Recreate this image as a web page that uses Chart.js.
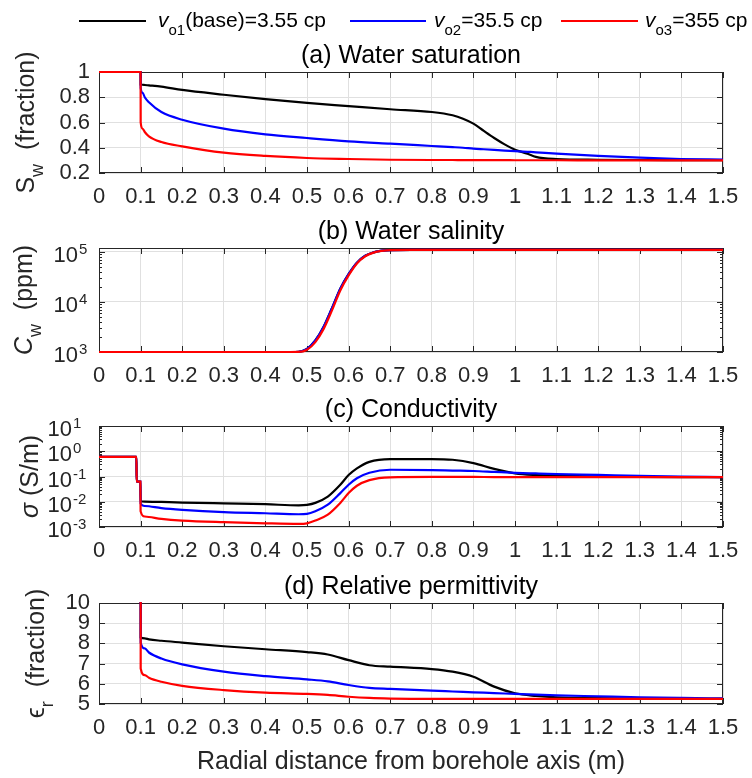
<!DOCTYPE html>
<html>
<head>
<meta charset="utf-8">
<script src="https://cdn.jsdelivr.net/npm/chart.js@4.4.1/dist/chart.umd.min.js"></script>
<style>
  body { margin: 0; background: #fff; }
  #wrap { position: relative; width: 752px; height: 778px; overflow: hidden; background: #fff; }
  canvas { position: absolute; left: 0; }
</style>
</head>
<body>
<div id="wrap">
  <canvas id="cSat" width="752" height="213" style="top:0px"></canvas>
  <canvas id="cSal" width="752" height="216" style="top:176px"></canvas>
  <canvas id="cCond" width="752" height="213" style="top:354px"></canvas>
  <canvas id="cPerm" width="752" height="247" style="top:531px"></canvas>
</div>
<script>
const FONT = "'Liberation Sans', Arial, Helvetica, sans-serif";
const AXIS = '#262626';
const GRID = '#e0e0e0';

// series: oil viscosity cases
const seriesNames = ['vo1(base)=3.55 cp', 'vo2=35.5 cp', 'vo3=355 cp'];
const seriesColors = ['#000000', '#0000ff', '#ff0000'];

// (a) water saturation (fraction)
const xSat = [0, 0.1, 0.1002, 0.105, 0.11, 0.12, 0.15, 0.2, 0.3, 0.4, 0.5, 0.6, 0.7, 0.8, 0.85, 0.875, 0.9, 0.925, 0.95, 0.975, 1.0, 1.03, 1.05, 1.1, 1.2, 1.3, 1.4, 1.5];
const satBase = [1, 1, 0.90, 0.899, 0.897, 0.894, 0.884, 0.858, 0.82, 0.785, 0.755, 0.73, 0.705, 0.683, 0.657, 0.63, 0.591, 0.533, 0.477, 0.427, 0.385, 0.353, 0.328, 0.311, 0.305, 0.303, 0.302, 0.301];
const satMid = [1, 1, 0.875, 0.835, 0.80, 0.76, 0.683, 0.622, 0.551, 0.506, 0.477, 0.451, 0.432, 0.414, 0.405, 0.4, 0.393, 0.388, 0.383, 0.378, 0.374, 0.368, 0.364, 0.353, 0.335, 0.321, 0.311, 0.306];
const satHigh = [1, 1, 0.60, 0.55, 0.525, 0.49, 0.445, 0.411, 0.361, 0.335, 0.319, 0.311, 0.305, 0.303, 0.303, 0.302, 0.302, 0.302, 0.302, 0.302, 0.301, 0.301, 0.301, 0.301, 0.3, 0.3, 0.3, 0.3];

// (b) water salinity (ppm)
const xSal = [0, 0.4, 0.46, 0.48, 0.5, 0.52, 0.54, 0.56, 0.58, 0.6, 0.62, 0.64, 0.66, 0.68, 0.7, 0.75, 1.5];
const salBase = [1000, 1000, 1000, 1010, 1150, 1700, 3200, 7500, 18500, 36000, 61000, 84000, 98000, 106000, 109000, 110000, 110000];
const salMid = [1000, 1000, 1000, 1010, 1150, 1700, 3200, 7500, 18500, 36000, 61000, 84000, 98000, 106000, 109000, 110000, 110000];
const salHigh = [1000, 1000, 1000, 1005, 1110, 1580, 2900, 6800, 17000, 34000, 59000, 82000, 97000, 105000, 109000, 110000, 110000];

// (c) conductivity (S/m)
const xCond = [0, 0.09, 0.0905, 0.0995, 0.1, 0.11, 0.15, 0.2, 0.3, 0.4, 0.48, 0.5, 0.52, 0.55, 0.58, 0.6, 0.62, 0.65, 0.7, 0.8, 0.85, 0.9, 0.95, 1.0, 1.05, 1.1, 1.2, 1.3, 1.4, 1.5];
const condBase = [0.6, 0.6, 0.063, 0.063, 0.0105, 0.0102, 0.0098, 0.0093, 0.0086, 0.008, 0.0072, 0.0075, 0.009, 0.016, 0.047, 0.114, 0.21, 0.38, 0.49, 0.49, 0.46, 0.34, 0.2, 0.134, 0.115, 0.108, 0.1, 0.097, 0.095, 0.094];
const condMid = [0.6, 0.6, 0.063, 0.063, 0.0085, 0.0068, 0.0056, 0.0048, 0.0039, 0.0035, 0.0032, 0.0033, 0.0042, 0.0077, 0.022, 0.047, 0.085, 0.14, 0.185, 0.18, 0.172, 0.165, 0.152, 0.14, 0.132, 0.125, 0.115, 0.105, 0.1, 0.095];
const condHigh = [0.6, 0.6, 0.063, 0.063, 0.0042, 0.0026, 0.0021, 0.0018, 0.00155, 0.0014, 0.00133, 0.0014, 0.0018, 0.0031, 0.009, 0.022, 0.043, 0.072, 0.093, 0.096, 0.096, 0.096, 0.095, 0.095, 0.095, 0.095, 0.095, 0.095, 0.095, 0.095];

// (d) relative permittivity
const xPerm = [0, 0.1, 0.1002, 0.11, 0.12, 0.15, 0.2, 0.3, 0.4, 0.5, 0.55, 0.6, 0.65, 0.7, 0.8, 0.85, 0.9, 0.95, 1.0, 1.05, 1.1, 1.2, 1.3, 1.4, 1.5];
const permBase = [80, 80, 8.29, 8.25, 8.2, 8.13, 8.04, 7.86, 7.71, 7.57, 7.45, 7.17, 6.92, 6.85, 6.73, 6.6, 6.35, 5.86, 5.53, 5.4, 5.33, 5.29, 5.27, 5.26, 5.25];
const permMid = [80, 80, 8.05, 7.75, 7.55, 7.25, 6.96, 6.6, 6.38, 6.22, 6.12, 5.94, 5.8, 5.75, 5.66, 5.62, 5.58, 5.54, 5.5, 5.46, 5.43, 5.38, 5.33, 5.3, 5.28];
const permHigh = [80, 80, 6.76, 6.43, 6.3, 6.1, 5.9, 5.69, 5.56, 5.5, 5.45, 5.36, 5.3, 5.27, 5.25, 5.25, 5.25, 5.25, 5.25, 5.25, 5.25, 5.25, 5.25, 5.25, 5.25];

function isDecade(v) {
    const l = Math.log10(v);
    return Math.abs(l - Math.round(l)) < 1e-6;
}

// draw a run of text pieces with sub/superscripts
function drawRich(ctx, parts, x, y, size, align) {
    const items = parts.map(p => {
        const s = (p.sub || p.sup) ? Math.round(size * 0.72) : size;
        const font = (p.italic ? 'italic ' : '') + s + 'px ' + FONT;
        ctx.font = font;
        return { t: p.t, font, w: ctx.measureText(p.t).width, dy: p.sub ? size * 0.36 : p.sup ? -size * 0.38 : 0 };
    });
    const total = items.reduce((a, b) => a + b.w, 0);
    let cx = align === 'center' ? x - total / 2 : align === 'right' ? x - total : x;
    ctx.textAlign = 'left';
    ctx.textBaseline = 'alphabetic';
    items.forEach(it => {
        ctx.font = it.font;
        ctx.fillText(it.t, cx, y + it.dy);
        cx += it.w;
    });
}

const legendParts = [
    [{ t: 'v', italic: true }, { t: 'o1', sub: true }, { t: '(base)=3.55 cp' }],
    [{ t: 'v', italic: true }, { t: 'o2', sub: true }, { t: '=35.5 cp' }],
    [{ t: 'v', italic: true }, { t: 'o3', sub: true }, { t: '=355 cp' }]
];
const legendLines = [[79, 146, 158], [350, 426, 434], [561, 638, 645]];

const axesPlugin = {
    id: 'matlabAxes',
    beforeDatasetsDraw(chart, args, opts) {
        const { ctx, chartArea: a, scales } = chart;
        ctx.save();
        ctx.strokeStyle = AXIS;
        ctx.lineWidth = 1;
        ctx.beginPath();
        scales.x.ticks.forEach(t => {
            const px = Math.round(scales.x.getPixelForValue(t.value)) + 0.5;
            ctx.moveTo(px, a.bottom); ctx.lineTo(px, a.bottom - 6);
            ctx.moveTo(px, a.top); ctx.lineTo(px, a.top + 6);
        });
        const log = scales.y.type === 'logarithmic';
        scales.y.ticks.forEach(t => {
            const len = (log && !isDecade(t.value)) ? 3 : 6;
            const py = Math.round(scales.y.getPixelForValue(t.value)) + 0.5;
            ctx.moveTo(a.left, py); ctx.lineTo(a.left + len, py);
            ctx.moveTo(a.right, py); ctx.lineTo(a.right - len, py);
        });
        ctx.stroke();
        ctx.strokeRect(a.left + 0.5, a.top + 0.5, a.right - a.left - 1, a.bottom - a.top - 1);
        ctx.restore();
    },
    afterDraw(chart, args, opts) {
        const { ctx, chartArea: a, scales } = chart;
        ctx.save();
        ctx.fillStyle = '#000';
        ctx.font = '25px ' + FONT;
        ctx.textAlign = 'center';
        ctx.textBaseline = 'alphabetic';
        ctx.fillText(opts.title, (a.left + a.right) / 2, a.top - 9);

        ctx.fillStyle = AXIS;
        ctx.save();
        ctx.translate(opts.ylabX, (a.top + a.bottom) / 2);
        ctx.rotate(-Math.PI / 2);
        drawRich(ctx, opts.ylab, 0, 0, 25, 'center');
        ctx.restore();

        if (scales.y.type === 'logarithmic') {
            scales.y.ticks.filter(t => isDecade(t.value)).forEach(t => {
                const py = scales.y.getPixelForValue(t.value);
                const e = Math.round(Math.log10(t.value));
                const xr = a.left - opts.logGap;
                ctx.font = '22px ' + FONT;
                ctx.textAlign = 'right';
                ctx.fillText('10', xr, py + 10);
                ctx.font = '15px ' + FONT;
                ctx.textAlign = 'left';
                ctx.fillText(e < 0 ? '-' + (-e) : String(e), xr + 1, py + 2);
            });
        }

        if (opts.legend) {
            legendLines.forEach((l, i) => {
                ctx.strokeStyle = seriesColors[i];
                ctx.lineWidth = 2;
                ctx.beginPath();
                ctx.moveTo(l[0], 21); ctx.lineTo(l[1], 21);
                ctx.stroke();
                ctx.fillStyle = '#000';
                drawRich(ctx, legendParts[i], l[2], 27, 21, 'left');
            });
        }
        if (opts.xlabel) {
            ctx.fillStyle = AXIS;
            ctx.font = '25px ' + FONT;
            ctx.textAlign = 'center';
            ctx.fillText(opts.xlabel, (a.left + a.right) / 2, a.bottom + 65);
        }
        ctx.restore();
    }
};

function logTicks(s) {
    const t = [];
    const e0 = Math.floor(Math.log10(s.min));
    const e1 = Math.ceil(Math.log10(s.max));
    for (let e = e0; e <= e1; e++) {
        for (let k = 1; k <= 9; k++) {
            const v = k * Math.pow(10, e);
            if (v >= s.min * 0.999 && v <= s.max * 1.001) t.push({ value: v });
        }
    }
    s.ticks = t;
}

function makePanel(p) {
    const isLog = p.type === 'logarithmic';
    return new Chart(document.getElementById(p.id), {
        type: 'line',
        data: {
            datasets: p.series.map((ys, i) => ({
                label: seriesNames[i],
                data: p.x.map((x, j) => ({ x: x, y: ys[j] })),
                borderColor: seriesColors[i],
                borderWidth: 2.2,
                pointRadius: 0,
                fill: false,
                cubicInterpolationMode: 'monotone',
                clip: { left: 2, top: 1, right: 2, bottom: 2 },
                order: 3 - i
            }))
        },
        options: {
            responsive: false,
            animation: false,
            devicePixelRatio: 1,
            layout: { padding: { top: 72, right: 29, left: 0, bottom: 0 }, autoPadding: false },
            plugins: { legend: { display: false }, tooltip: { enabled: false }, matlabAxes: p },
            scales: {
                x: {
                    type: 'linear', min: 0, max: 1.5,
                    afterFit: s => { s.height = p.xAxisH; },
                    ticks: {
                        stepSize: 0.1, color: AXIS, font: { size: 22, family: FONT }, padding: 11,
                        maxRotation: 0, autoSkip: false,
                        callback: v => String(Math.round(v * 10) / 10)
                    },
                    grid: { color: GRID, drawTicks: false },
                    border: { display: false }
                },
                y: {
                    type: p.type, min: p.min, max: p.max,
                    afterFit: s => { s.width = 99; },
                    afterBuildTicks: isLog ? logTicks : undefined,
                    ticks: {
                        stepSize: p.step, color: AXIS, font: { size: 22, family: FONT }, padding: 9, autoSkip: false,
                        callback: isLog ? () => '' : v => String(Math.round(v * 10) / 10)
                    },
                    grid: {
                        color: isLog ? (c => (c.tick && isDecade(c.tick.value)) ? GRID : 'rgba(0,0,0,0)') : GRID,
                        drawTicks: false
                    },
                    border: { display: false }
                }
            }
        },
        plugins: [axesPlugin]
    });
}

makePanel({
    id: 'cSat', x: xSat, series: [satBase, satMid, satHigh], type: 'linear', min: 0.2, max: 1, step: 0.2,
    title: '(a) Water saturation', ylabX: 34, xAxisH: 40, legend: true,
    ylab: [{ t: 'S' }, { t: 'w', sub: true }, { t: '  (fraction)' }]
});
makePanel({
    id: 'cSal', x: xSal, series: [salBase, salMid, salHigh], type: 'logarithmic', min: 1000, max: 120000,
    title: '(b) Water salinity', ylabX: 32, xAxisH: 40, logGap: 21,
    ylab: [{ t: 'C', italic: true }, { t: 'w', sub: true }, { t: '  (ppm)' }]
});
makePanel({
    id: 'cCond', x: xCond, series: [condBase, condMid, condHigh], type: 'logarithmic', min: 0.001, max: 10,
    title: '(c) Conductivity', ylabX: 38, xAxisH: 40, logGap: 27,
    ylab: [{ t: 'σ', italic: true }, { t: ' (S/m)' }]
});
makePanel({
    id: 'cPerm', x: xPerm, series: [permBase, permMid, permHigh], type: 'linear', min: 5, max: 10, step: 1,
    title: '(d) Relative permittivity', ylabX: 44, xAxisH: 74,
    xlabel: 'Radial distance from borehole axis (m)',
    ylab: [{ t: 'ϵ' }, { t: 'r', sub: true }, { t: '  (fraction)' }]
});
</script>
</body>
</html>
